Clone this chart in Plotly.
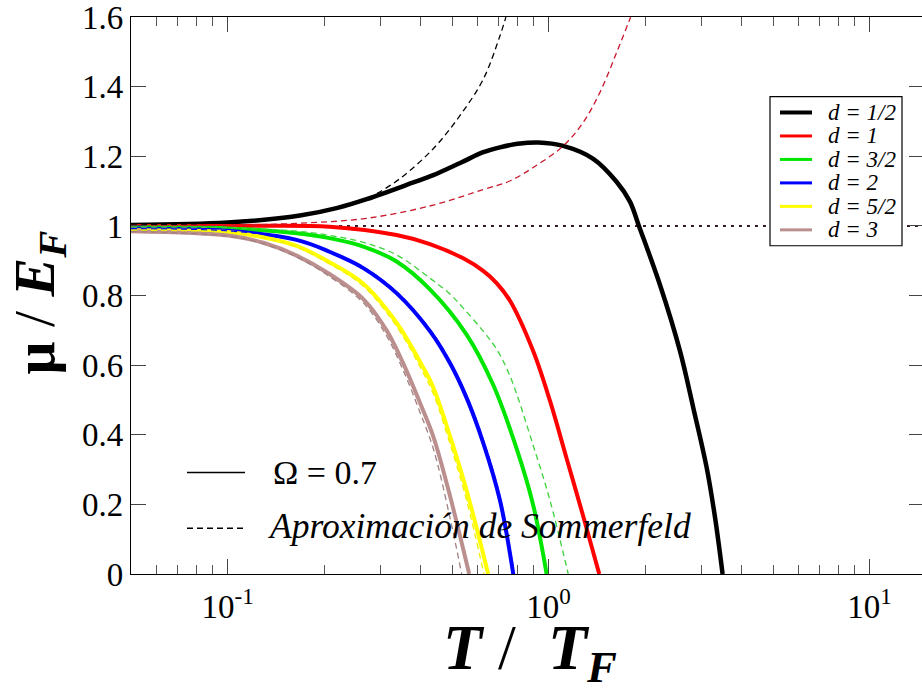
import numpy as np
import plotly.graph_objects as go

# ---- data: chemical potential mu/E_F versus reduced temperature T/T_F ----
# d = 1/2
t_d05 = [0.05, 0.10, 0.168, 0.22, 0.271, 0.379, 0.437, 0.53, 0.626, 0.705, 0.80, 0.93, 1.11, 1.377, 1.628, 1.792, 1.911, 2.222, 2.565, 2.822, 3.105, 3.297, 3.483]
mu_d05 = [1.003, 1.010, 1.030, 1.052, 1.077, 1.125, 1.146, 1.181, 1.212, 1.226, 1.236, 1.240, 1.230, 1.193, 1.127, 1.070, 1.000, 0.831, 0.641, 0.478, 0.307, 0.164, 0.0]
t_d05_s = [0.05, 0.10, 0.168, 0.22, 0.26, 0.291, 0.344, 0.437, 0.529, 0.626, 0.705, 0.736]
mu_d05_s = [1.003, 1.010, 1.030, 1.052, 1.072, 1.093, 1.136, 1.222, 1.317, 1.422, 1.546, 1.60]

# d = 1
t_d1 = [0.05, 0.10, 0.2077, 0.3359, 0.4268, 0.542, 0.6254, 0.6886, 0.758, 0.8956, 1.0094, 1.1378, 1.2818, 1.4379]
mu_d1 = [1.000, 1.000, 0.998, 0.974, 0.948, 0.907, 0.871, 0.836, 0.785, 0.640, 0.498, 0.332, 0.166, 0.0]
t_d1_s = [0.05, 0.10, 0.168, 0.271, 0.437, 0.626, 0.76, 0.895, 1.11, 1.282, 1.445, 1.628, 1.80]
mu_d1_s = [1.000, 1.002, 1.008, 1.022, 1.060, 1.105, 1.130, 1.168, 1.230, 1.298, 1.384, 1.498, 1.60]

# d = 3/2
t_d15 = [0.05, 0.10, 0.164, 0.2077, 0.2647, 0.3359, 0.4268, 0.5552, 0.6722, 0.7949, 0.8956, 0.9857]
mu_d15 = [0.996, 0.993, 0.979, 0.965, 0.941, 0.898, 0.818, 0.688, 0.543, 0.360, 0.197, 0.0]
t_d15_s = [0.05, 0.10, 0.164, 0.2077, 0.2647, 0.3359, 0.4268, 0.4907, 0.542, 0.6254, 0.6886, 0.758, 0.8956, 1.0094, 1.151]
mu_d15_s = [0.997, 0.995, 0.985, 0.973, 0.953, 0.917, 0.850, 0.806, 0.764, 0.698, 0.646, 0.569, 0.369, 0.212, 0.0]

# d = 2
t_d2 = [0.05, 0.10, 0.164, 0.2077, 0.2647, 0.3359, 0.4268, 0.4907, 0.5552, 0.6254, 0.7052, 0.7759]
mu_d2 = [0.992, 0.986, 0.960, 0.926, 0.879, 0.807, 0.698, 0.609, 0.506, 0.377, 0.212, 0.0]
t_d2_s = [0.05, 0.10, 0.164, 0.2077, 0.2647, 0.3359, 0.4268, 0.4907, 0.5552, 0.6254, 0.7052, 0.782]
mu_d2_s = [0.992, 0.986, 0.961, 0.928, 0.882, 0.811, 0.703, 0.615, 0.513, 0.386, 0.222, 0.0]

# d = 5/2
t_d25 = [0.05, 0.1017, 0.13, 0.164, 0.2077, 0.2647, 0.3359, 0.4068, 0.4373, 0.4907, 0.5552, 0.6482]
mu_d25 = [0.988, 0.982, 0.967, 0.943, 0.896, 0.834, 0.722, 0.593, 0.536, 0.402, 0.240, 0.0]
t_d25_s = [0.05, 0.1017, 0.13, 0.164, 0.2077, 0.2647, 0.3359, 0.4068, 0.4373, 0.4907, 0.5552, 0.6286]
mu_d25_s = [0.988, 0.981, 0.965, 0.940, 0.891, 0.827, 0.712, 0.578, 0.518, 0.380, 0.212, 0.0]

# d = 3
t_d3 = [0.05, 0.1017, 0.13, 0.164, 0.2077, 0.2647, 0.3128, 0.3524, 0.3973, 0.4373, 0.4907, 0.5657]
mu_d3 = [0.985, 0.972, 0.951, 0.915, 0.862, 0.790, 0.700, 0.605, 0.492, 0.395, 0.231, 0.0]
t_d3_s = [0.05, 0.1017, 0.13, 0.164, 0.2077, 0.2647, 0.3128, 0.3524, 0.3973, 0.4373, 0.4907, 0.536]
mu_d3_s = [0.984, 0.970, 0.948, 0.911, 0.855, 0.779, 0.684, 0.585, 0.465, 0.360, 0.170, 0.0]

# reference level mu = E_F
t_ref = [0.05, 14.6]
mu_ref = [1.0, 1.0]

labels = ["d = 1/2", "d = 1", "d = 3/2", "d = 2", "d = 5/2", "d = 3"]
colors = ["#000000", "#ff0000", "#00e600", "#0000ff", "#ffff00", "#bc8f8f"]
dash_colors = ["#000000", "#c8182c", "#3cd23c", "#0000ff", "#f0f000", "#a08080"]

# axis ticks
x_major = [0.1, 1, 10]
x_major_text = ["10<sup>-1</sup>", "10<sup>0</sup>", "10<sup>1</sup>"]
x_minor = [0.06, 0.07, 0.08, 0.09, 0.2, 0.3, 0.4, 0.5, 0.6, 0.7, 0.8, 0.9,
           2, 3, 4, 5, 6, 7, 8, 9]
y_major = [0, 0.2, 0.4, 0.6, 0.8, 1.0, 1.2, 1.4, 1.6]
y_major_text = ["0", "0.2", "0.4", "0.6", "0.8", "1", "1.2", "1.4", "1.6"]

x_title = "<b><i>T</i></b> /&nbsp; <b><i>T</i></b><sub><b><i>F</i></b></sub>"
y_title = "<b>μ</b> / <b><i>E</i></b><sub><b><i>F</i></b></sub>"

solid = [(t_d05, mu_d05), (t_d1, mu_d1), (t_d15, mu_d15), (t_d2, mu_d2), (t_d25, mu_d25), (t_d3, mu_d3)]
somm = [(t_d05_s, mu_d05_s), (t_d1_s, mu_d1_s), (t_d15_s, mu_d15_s), (t_d2_s, mu_d2_s), (t_d25_s, mu_d25_s), (t_d3_s, mu_d3_s)]

SERIF = "Liberation Serif"

fig = go.Figure()

fig.add_trace(go.Scatter(x=t_ref, y=mu_ref, mode="lines", showlegend=False, hoverinfo="skip",
                         line=dict(color="#3a1a2a", width=2, dash="3px,5px")))

for (tx, my), lab, col in zip(solid, labels, colors):
    fig.add_trace(go.Scatter(x=tx, y=my, mode="lines", name=lab, showlegend=False,
                             line=dict(color=col, width=4.5 if col == "#000000" else 4,
                                       shape="spline", smoothing=1.0)))

for (tx, my), lab, col in zip(somm, labels, dash_colors):
    fig.add_trace(go.Scatter(x=tx, y=my, mode="lines", name=lab + " (Sommerfeld)", showlegend=False,
                             line=dict(color=col, width=1.3, dash="6px,4px",
                                       shape="spline", smoothing=1.0)))

# right-hand axis carrying only the mirrored tick marks
fig.add_trace(go.Scatter(x=[None], y=[None], yaxis="y2", showlegend=False, hoverinfo="skip"))

# plot area in pixels
W, H = 922, 691
L, R, T, B = 131, 0, 14, 117
pw, ph = W - L - R, H - T - B


def px(x):
    return (x - L) / pw


def py(y):
    return (H - B - y) / ph


shapes = []
annotations = []

# legend box
shapes.append(dict(type="rect", xref="paper", yref="paper", x0=px(770), x1=px(902),
                   y0=py(244), y1=py(94), line=dict(color="black", width=1.2),
                   fillcolor="white", layer="above"))
row_y = [110, 133.6, 157.2, 180.8, 204.4, 228.0]
for lab, col, ry in zip(labels, colors, row_y):
    shapes.append(dict(type="line", xref="paper", yref="paper", x0=px(780), x1=px(812),
                       y0=py(ry), y1=py(ry), layer="above",
                       line=dict(color=col, width=4 if col == "#000000" else 3)))
    annotations.append(dict(xref="paper", yref="paper", x=px(826), y=py(ry), xanchor="left",
                            yanchor="middle", showarrow=False, text="<i>" + lab + "</i>",
                            font=dict(family=SERIF, size=23, color="black")))

# line-style key
shapes.append(dict(type="line", xref="paper", yref="paper", x0=px(187), x1=px(245),
                   y0=py(472), y1=py(472), line=dict(color="black", width=1.5)))
shapes.append(dict(type="line", xref="paper", yref="paper", x0=px(187), x1=px(245),
                   y0=py(528), y1=py(528), line=dict(color="black", width=1.3, dash="6px,4px")))
annotations.append(dict(xref="paper", yref="paper", x=px(271), y=py(472), xanchor="left",
                        yanchor="middle", showarrow=False, text="Ω = 0.7",
                        font=dict(family=SERIF, size=34, color="black")))
annotations.append(dict(xref="paper", yref="paper", x=px(266), y=py(526), xanchor="left",
                        yanchor="middle", showarrow=False, text="<i>Aproximación de Sommerfeld</i>",
                        font=dict(family=SERIF, size=35.5, color="black")))

# axis titles
annotations.append(dict(xref="paper", yref="paper", x=px(530), y=py(652), xanchor="center",
                        yanchor="middle", showarrow=False, text=x_title,
                        font=dict(family=SERIF, size=64, color="black")))
annotations.append(dict(xref="paper", yref="paper", x=px(38), y=py(301), xanchor="center",
                        yanchor="middle", showarrow=False, text=y_title, textangle=-90,
                        font=dict(family=SERIF, size=58, color="black")))

xr = [np.log10(0.05), np.log10(0.05) + pw / 321.0]

fig.update_layout(
    width=W, height=H,
    margin=dict(l=L, r=R, t=T, b=B, pad=0),
    paper_bgcolor="white", plot_bgcolor="white",
    showlegend=False,
    font=dict(family=SERIF, color="black"),
    shapes=shapes, annotations=annotations,
    xaxis=dict(
        type="log", range=xr, showgrid=False, zeroline=False,
        showline=True, linecolor="black", linewidth=1.3, mirror="ticks",
        ticks="inside", ticklen=15, tickwidth=1.3, tickcolor="#444",
        tickmode="array", tickvals=x_major, ticktext=x_major_text,
        tickfont=dict(family=SERIF, size=33, color="black"), ticklabelstandoff=3,
        minor=dict(tickmode="array", tickvals=x_minor, ticks="inside", ticklen=9,
                   tickwidth=1, tickcolor="#555"),
    ),
    yaxis=dict(
        range=[0, 1.6005], showgrid=False, zeroline=False,
        showline=True, linecolor="black", linewidth=1.3,
        ticks="inside", ticklen=15, tickwidth=1.3, tickcolor="#444",
        tickmode="array", tickvals=y_major, ticktext=y_major_text,
        tickfont=dict(family=SERIF, size=33, color="black"),
        ticklabeloverflow="allow",
    ),
    yaxis2=dict(
        overlaying="y", side="right", range=[0, 1.6005], showgrid=False, zeroline=False,
        showline=False, ticks="inside", ticklen=13, tickwidth=1.3, tickcolor="#444",
        tickmode="array", tickvals=y_major, showticklabels=False,
    ),
)

fig.write_html("out.html")
